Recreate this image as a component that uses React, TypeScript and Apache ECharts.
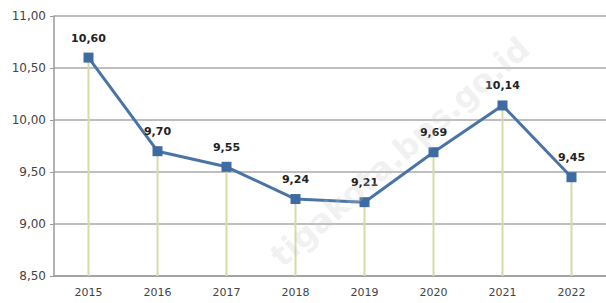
import React, { useEffect, useRef } from "react";
import * as echarts from "echarts";

const years = ["2015", "2016", "2017", "2018", "2019", "2020", "2021", "2022"];
const values = [10.6, 9.7, 9.55, 9.24, 9.21, 9.69, 10.14, 9.45];
const yMin = 8.5;
const yMax = 11;
const yStep = 0.5;

const fmt = (v: number) => v.toFixed(2).replace(".", ",");

export default function App() {
  const ref = useRef<HTMLDivElement>(null);
  useEffect(() => {
    if (!ref.current) return;
    const chart = echarts.init(ref.current, null, { renderer: "svg" });
    chart.setOption({
      animation: false,
      backgroundColor: "#ffffff",
      textStyle: { fontFamily: "DejaVu Sans" },
      grid: { left: 54, top: 16, bottom: 27, width: 557 },
      graphic: [
        {
          type: "text",
          x: 400,
          y: 152,
          rotation: (41 * Math.PI) / 180,
          style: {
            text: "tigakota.bps.go.id",
            font: "bold 32px 'DejaVu Sans'",
            fill: "rgba(200,200,200,0.25)",
            textAlign: "center",
            textVerticalAlign: "middle",
          },
          z: 100,
        },
      ],
      xAxis: {
        type: "category",
        data: years,
        boundaryGap: true,
        axisLine: { lineStyle: { color: "#9a9a9a", width: 1.5 } },
        axisTick: { show: false },
        axisLabel: { color: "#444", fontSize: 11, margin: 11 },
      },
      yAxis: {
        type: "value",
        min: yMin,
        max: yMax,
        interval: yStep,
        axisLine: { show: true, lineStyle: { color: "#9a9a9a", width: 1.5 } },
        axisTick: { show: true, length: 4, lineStyle: { color: "#9a9a9a" } },
        axisLabel: { color: "#444", fontSize: 12, margin: 8, formatter: (v: number) => fmt(v) },
        splitLine: { lineStyle: { color: "#a8a8a8", width: 1.5 } },
      },
      series: [
        {
          type: "bar",
          data: values,
          barWidth: 2,
          itemStyle: { color: "#d6d9a8" },
          silent: true,
          z: 1,
        },
        {
          type: "line",
          data: values,
          symbol: "rect",
          symbolSize: 10,
          lineStyle: { color: "#4a74a8", width: 3 },
          itemStyle: { color: "#3e6ba3" },
          label: {
            show: true,
            position: "top",
            distance: 9,
            color: "#222",
            fontSize: 11,
            fontWeight: "bold",
            formatter: (p: any) => fmt(p.value),
          },
          z: 3,
        },
      ],
    });
    return () => chart.dispose();
  }, []);
  return <div ref={ref} style={{ width: 606, height: 303, position: "absolute", left: 0, top: 0 }} />;
}
